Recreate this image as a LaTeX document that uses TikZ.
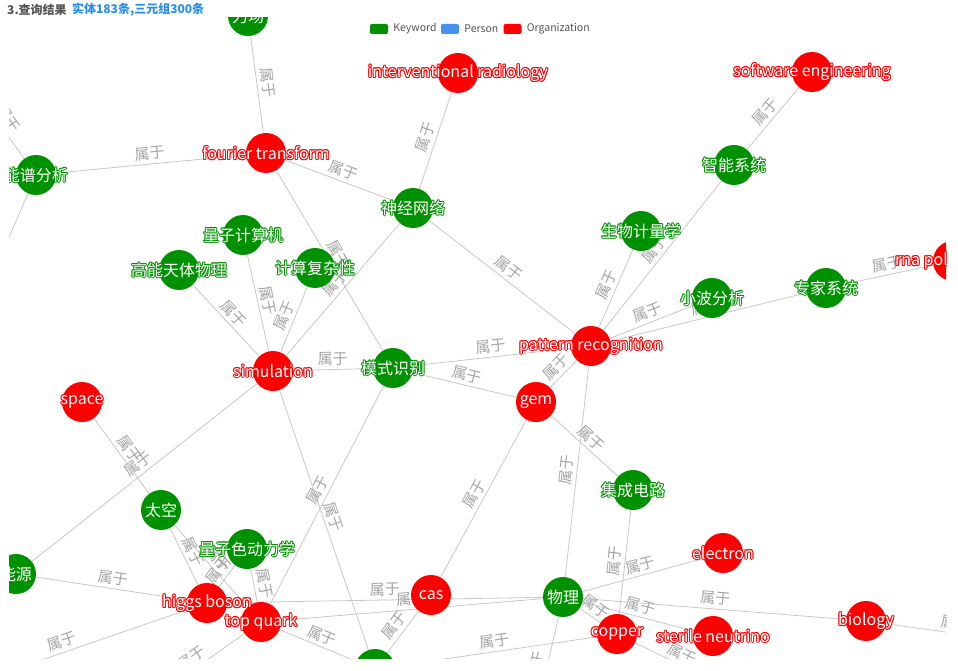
\documentclass[tikz,border=0pt]{standalone}
\usepackage{fontspec}
\usepackage{xcolor}
\usepackage{tikz}
\usetikzlibrary{positioning}
\newfontfamily\cjk{Noto Sans CJK SC}
\definecolor{kwgreen}{RGB}{0,145,0}
\definecolor{orgred}{RGB}{255,0,0}
\definecolor{perblue}{RGB}{72,144,240}
\definecolor{edgegray}{RGB}{200,200,200}
\definecolor{lblgray}{RGB}{165,165,165}
\definecolor{titleblue}{RGB}{40,140,240}
\definecolor{titlegray}{RGB}{85,85,85}
% white label with a thin coloured outline, centred on a node
\newcommand\entlabel[3]{%
  \foreach \hx/\hy in {1/0,-1/0,0/1,0/-1,.7/.7,-.7/.7,.7/-.7,-.7/-.7}
    \node[nlbl, text=#2] at ([shift={(\hx pt,\hy pt)}]#1) {#3};
  \node[nlbl, text=white] at (#1) {#3};}
\pgfdeclarelayer{bg}
\pgfdeclarelayer{edges}
\pgfsetlayers{bg,edges,main}
\begin{document}
\begin{tikzpicture}[
    x=1pt, y=-1pt,
    kw/.style={circle, fill=kwgreen, minimum size=40pt, inner sep=0pt},
    org/.style={kw, fill=orgred},
    nlbl/.style={inner sep=0pt, font=\cjk\fontsize{16}{16}\selectfont},
    edge/.style={draw=edgegray, line width=0.8pt},
    elbl/.style={midway, sloped, above=2pt, inner sep=1.5pt, text=lblgray,
                 font=\cjk\fontsize{15}{15}\selectfont},
    leg/.style={rounded corners=2pt, minimum width=18pt, minimum height=10pt, inner sep=0pt},
    legtxt/.style={anchor=west, inner sep=0pt, text=titlegray, font=\cjk\fontsize{10.5}{11}\selectfont}
]
    \begin{pgfonlayer}{bg}
        \fill[white] (0,0) rectangle (958,671);
    \end{pgfonlayer}
    \useasboundingbox (0,0) rectangle (958,671);

    % heading and legend
    \node[anchor=west, inner sep=0pt, text=titlegray, font=\cjk\bfseries\fontsize{12}{12}\selectfont] (head) at (7,10) {3.查询结果};
    \node[anchor=west, inner sep=0pt, text=titleblue, font=\cjk\bfseries\fontsize{12}{12}\selectfont, right=5pt of head] (count) {实体183条,三元组300条};
    \node[leg, fill=kwgreen] (lkw) at (379,29) {};
    \node[legtxt, right=5pt of lkw] {Keyword};
    \node[leg, fill=perblue] (lper) at (450,29) {};
    \node[legtxt, right=5pt of lper] {Person};
    \node[leg, fill=orgred] (lorg) at (512.5,29) {};
    \node[legtxt, right=5pt of lorg] {Organization};

    \begin{scope}
    \clip (9,18) rectangle (946,658);
    \node[kw] (lichang) at (248,16) {};
    \node[org] (fourier) at (266,153) {};
    \node[kw] (nengpu) at (36,175) {};
    \node[org] (interv) at (458,73) {};
    \node[org] (softeng) at (812,72) {};
    \node[kw] (zhineng) at (734,165) {};
    \node[kw] (shenjing) at (413,208) {};
    \node[kw] (liangzi) at (243,235) {};
    \node[kw] (gaoneng) at (179,270) {};
    \node[kw] (jisuan) at (315,268) {};
    \node[kw] (shengwu) at (641,231) {};
    \node[kw] (xiaobo) at (712,298) {};
    \node[kw] (zhuanjia) at (826,288) {};
    \node[org] (rna) at (953,261) {};
    \node[org] (pattern) at (591,346) {};
    \node[org] (simulation) at (273,371) {};
    \node[kw] (moshi) at (393,368) {};
    \node[org] (gem) at (536,402) {};
    \node[org] (space) at (82,402) {};
    \node[kw] (jicheng) at (633,490) {};
    \node[kw] (taikong) at (161,510) {};
    \node[kw] (qcd) at (247,549) {};
    \node[kw] (nengyuan) at (16,574) {};
    \node[org] (electron) at (723,553) {};
    \node[org] (higgs) at (207,603) {};
    \node[org] (topquark) at (261,622) {};
    \node[org] (cas) at (431,595) {};
    \node[kw] (wuli) at (563,597) {};
    \node[org] (copper) at (617,634) {};
    \node[org] (sterile) at (713,636) {};
    \node[org] (biology) at (866,621) {};
    \node[kw] (bottom) at (375,669) {};
    \coordinate (o1) at (-25,90);
    \coordinate (o2) at (-18,300);
    \coordinate (o3) at (-57,694);
    \coordinate (o4) at (150,700);
    \coordinate (o5) at (535,720);
    \coordinate (o6) at (1024,643);
    \coordinate (o7) at (720,684);

    \foreach \n/\c/\t in {lichang/kwgreen/力场, fourier/orgred/fourier transform,
        nengpu/kwgreen/能谱分析, interv/orgred/interventional radiology,
        softeng/orgred/software engineering, zhineng/kwgreen/智能系统, shenjing/kwgreen/神经网络,
        liangzi/kwgreen/量子计算机, gaoneng/kwgreen/高能天体物理, jisuan/kwgreen/计算复杂性,
        shengwu/kwgreen/生物计量学, xiaobo/kwgreen/小波分析, zhuanjia/kwgreen/专家系统,
        rna/orgred/rna polymerase, pattern/orgred/pattern recognition, simulation/orgred/simulation,
        moshi/kwgreen/模式识别, gem/orgred/gem, space/orgred/space, jicheng/kwgreen/集成电路,
        taikong/kwgreen/太空, qcd/kwgreen/量子色动力学, nengyuan/kwgreen/能源,
        electron/orgred/electron, higgs/orgred/higgs boson, topquark/orgred/top quark,
        cas/orgred/cas, wuli/kwgreen/物理, copper/orgred/copper,
        sterile/orgred/sterile neutrino, biology/orgred/biology}
        {\entlabel{\n}{\c}{\t}}
    \end{scope}

    \begin{pgfonlayer}{edges}
    \begin{scope}
    \clip (9,18) rectangle (946,658);
    \foreach \a/\b in {lichang/fourier, nengpu/fourier, nengpu/o1, nengpu/o2, fourier/shenjing,
        fourier/moshi, interv/shenjing, softeng/zhineng, zhineng/pattern, shenjing/pattern,
        shenjing/simulation, liangzi/simulation, gaoneng/simulation, jisuan/simulation,
        simulation/moshi, simulation/nengyuan, simulation/bottom, moshi/pattern, moshi/gem,
        moshi/topquark, pattern/shengwu, pattern/xiaobo, pattern/zhuanjia, zhuanjia/rna,
        pattern/gem, pattern/wuli, gem/cas, gem/jicheng, jicheng/copper, space/taikong,
        taikong/higgs, taikong/topquark, qcd/higgs, qcd/topquark, nengyuan/higgs, higgs/o3,
        topquark/o4, higgs/wuli, topquark/wuli, topquark/bottom, cas/bottom, bottom/copper,
        wuli/electron, wuli/sterile, wuli/biology, wuli/copper, wuli/o5, biology/o6, copper/o7}
        \draw[edge] (\a) -- node[elbl]{属于} (\b);
    \end{scope}
    \end{pgfonlayer}
\end{tikzpicture}
\end{document}
